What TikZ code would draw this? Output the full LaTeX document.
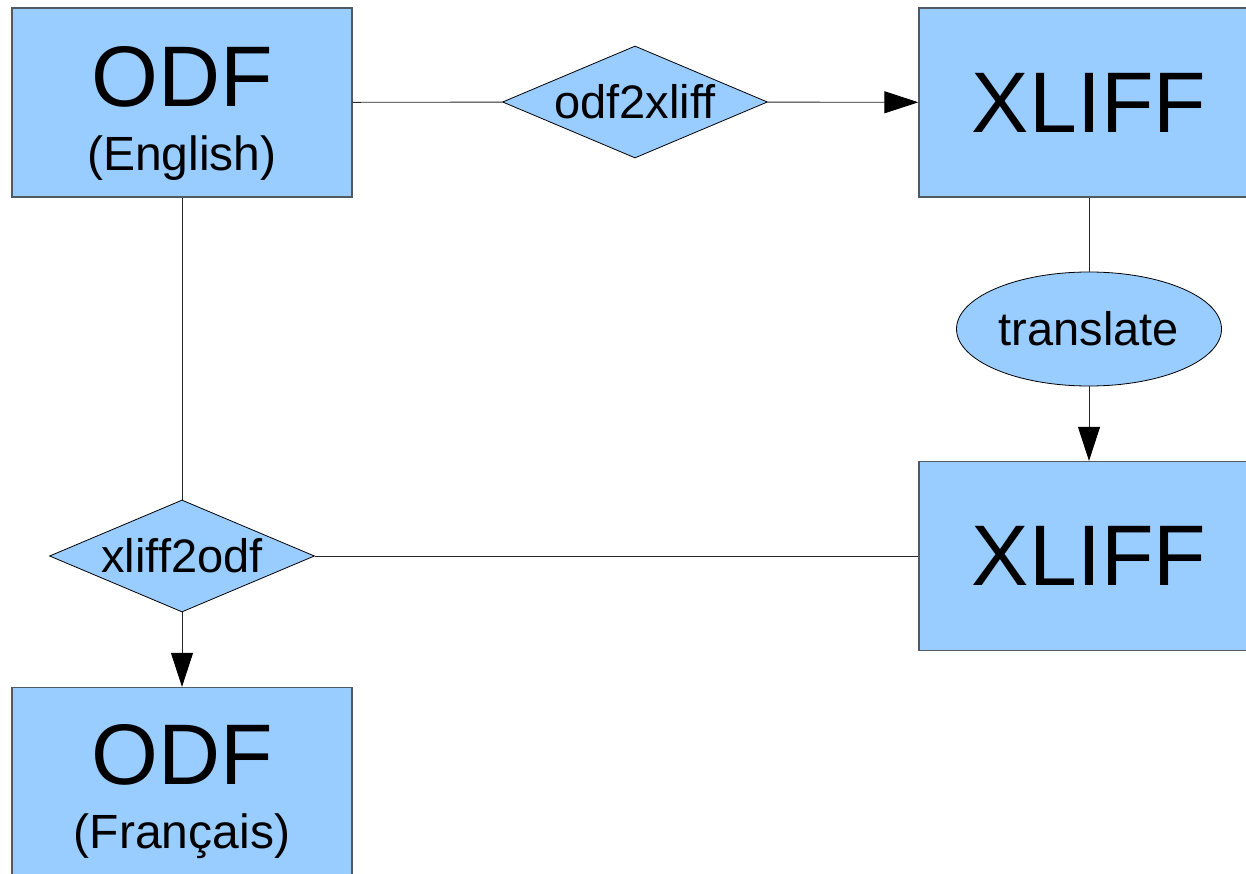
\documentclass[tikz,border=0pt]{standalone}
\usepackage{fontspec}
\setmainfont{Liberation Sans}
\usetikzlibrary{shapes.geometric,arrows.meta,positioning}

\definecolor{docblue}{HTML}{99CCFF}
\definecolor{docline}{HTML}{505A64}

\tikzstyle{doc}=[draw=docline,line width=1.3pt,fill=docblue,minimum width=340pt,minimum height=189pt,inner sep=0pt,font=\fontsize{86}{86}\selectfont]
\tikzstyle{doctext}=[inner sep=0pt,align=center,font=\fontsize{48}{64}\selectfont]
\tikzstyle{convtext}=[inner sep=0pt,font=\fontsize{47}{47}\selectfont]
\tikzstyle{conv}=[draw,diamond,fill=docblue,line width=0.8pt,minimum width=265pt,minimum height=112pt,inner sep=0pt]
\tikzstyle{step2}=[draw,ellipse,fill=docblue,line width=0.8pt,minimum width=265pt,minimum height=114pt,inner sep=0pt,font=\fontsize{47}{47}\selectfont]
\tikzstyle{link}=[draw=black!85,line width=0.9pt]

\begin{document}
\begin{tikzpicture}[x=1pt,y=-1pt,>={Triangle[length=34pt,width=22pt,black]}]
\useasboundingbox (0,0) rectangle (1246,874);

% ODF ENGLISH
\node[doc] (odfen) at (182,102.5) {};
\node[doctext,below=39pt of odfen.north] (odfentext) {{\fontsize{86}{86}\selectfont ODF}\\(English)};

% ODF2XLIFF
\node[conv,label={[convtext]center:odf2xliff}] (odf2xliff) at (635,102) {};

% XLIFF
\node[doc] (xliffa) at (1089,102.5) {XLIFF};
\node[step2] (translate) at (1089,329) {translate};
\node[doc] (xliffb) at (1089,556) {XLIFF};

% XLIFF2ODF
\node[conv,label={[convtext]center:xliff2odf}] (xliff2odf) at (182,556) {};

% ODF FRANCAIS
\node[doc] (odffr) at (182,782) {};
\node[doctext,below=37pt of odffr.north] (odffrtext) {{\fontsize{86}{86}\selectfont ODF}\\(Français)};

% LINKS
\draw[link] (odfen) -- (odf2xliff);
\draw[link,->] (odf2xliff) -- (xliffa);
\draw[link] (xliffa) -- (translate);
\draw[link,->] (translate) -- (xliffb);
\draw[link] (xliffb) -- (xliff2odf);
\draw[link] (odfen) -- (xliff2odf);
\draw[link,->] (xliff2odf) -- (odffr);

\end{tikzpicture}
\end{document}
